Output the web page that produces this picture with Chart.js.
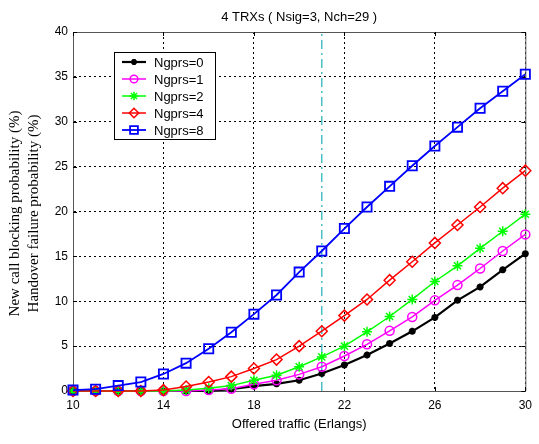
<!DOCTYPE html>
<html>
<head>
<meta charset="utf-8">
<script src="https://cdn.jsdelivr.net/npm/chart.js@4.4.1/dist/chart.umd.min.js"></script>
<style>
  html, body { margin: 0; padding: 0; background: #fff; }
  #wrap { width: 539px; height: 444px; }
</style>
</head>
<body>
<div id="wrap"><canvas id="myChart"></canvas></div>
<script>
// offered traffic (Erlangs)
const traffic = [10, 11, 12, 13, 14, 15, 16, 17, 18, 19, 20, 21, 22, 23, 24, 25, 26, 27, 28, 29, 30];

// blocking / handover failure probability (%)
const ngprs0 = [0, 0, 0, 0, 0, 0, 0, 0.2, 0.55, 0.8, 1.2, 1.95, 2.9, 4.0, 5.3, 6.65, 8.2, 10.1, 11.6, 13.5, 15.3];
const ngprs1 = [0, 0, 0, 0, 0, 0, 0.1, 0.25, 0.75, 1.2, 1.85, 2.7, 3.9, 5.2, 6.7, 8.25, 10.1, 11.8, 13.65, 15.6, 17.45];
const ngprs2 = [0, 0, 0, 0, 0, 0.1, 0.3, 0.6, 1.2, 1.75, 2.7, 3.8, 5.0, 6.6, 8.3, 10.2, 12.2, 13.95, 15.9, 17.8, 19.7];
const ngprs4 = [0, 0, 0, 0, 0.1, 0.5, 1.0, 1.6, 2.5, 3.5, 5.0, 6.66, 8.4, 10.2, 12.35, 14.4, 16.5, 18.5, 20.5, 22.6, 24.55];
const ngprs8 = [0.1, 0.2, 0.6, 1.0, 1.9, 3.1, 4.7, 6.55, 8.56, 10.7, 13.25, 15.6, 18.1, 20.5, 22.8, 25.1, 27.3, 29.4, 31.5, 33.4, 35.3];

const seriesLabels = ['Ngprs=0', 'Ngprs=1', 'Ngprs=2', 'Ngprs=4', 'Ngprs=8'];
const xTicks = [10, 14, 18, 22, 26, 30];
const yTicks = [0, 5, 10, 15, 20, 25, 30, 35, 40];
const markerTraffic = 21;

const series = [
    { label: seriesLabels[0], values: ngprs0, color: '#000000', style: 'star', radius: 3.5, width: 2.2 },
    { label: seriesLabels[1], values: ngprs1, color: '#FF00FF', style: 'circle', radius: 4.5, width: 1.5 },
    { label: seriesLabels[2], values: ngprs2, color: '#00FF00', style: 'star', radius: 5, width: 1.5 },
    { label: seriesLabels[3], values: ngprs4, color: '#FF0000', style: 'rectRot', radius: 5.5, width: 1.5 },
    { label: seriesLabels[4], values: ngprs8, color: '#0000FF', style: 'rect', radius: 6.5, width: 1.8 },
];

const FONT_SANS = "'Liberation Sans', Arial, sans-serif";
const FONT_SERIF = "'Liberation Serif', 'Times New Roman', serif";

const datasets = series.map((s, i) => ({
    label: s.label,
    data: traffic.map((t, k) => ({ x: t, y: s.values[k] })),
    borderColor: s.color,
    backgroundColor: 'rgba(0,0,0,0)',
    borderWidth: s.width,
    pointStyle: s.style,
    pointRadius: s.radius,
    pointBorderColor: s.color,
    pointBackgroundColor: 'rgba(0,0,0,0)',
    pointBorderWidth: s.width,
    tension: 0,
    clip: false,
    order: series.length - i,
}));

datasets.push({
    label: 'marker',
    data: [{ x: markerTraffic, y: yTicks[0] }, { x: markerTraffic, y: yTicks[yTicks.length - 1] }],
    borderColor: '#4CBFC6',
    borderWidth: 1.5,
    borderDash: [9, 4, 2, 4],
    pointRadius: 0,
    order: 20,
});

const decorations = {
    id: 'decorations',
    beforeDatasetsDraw(chart) {
        const { ctx, chartArea: a, scales } = chart;
        ctx.save();
        ctx.strokeStyle = '#555';
        ctx.lineWidth = 1;
        ctx.beginPath();
        ctx.moveTo(a.left, a.top + 0.5);
        ctx.lineTo(a.right + 0.5, a.top + 0.5);
        ctx.lineTo(a.right + 0.5, a.bottom);
        ctx.stroke();
        // inward tick marks
        ctx.strokeStyle = '#000';
        ctx.beginPath();
        xTicks.forEach(v => {
            const x = Math.round(scales.x.getPixelForValue(v)) + 0.5;
            ctx.moveTo(x, a.bottom); ctx.lineTo(x, a.bottom - 4);
            ctx.moveTo(x, a.top); ctx.lineTo(x, a.top + 4);
        });
        yTicks.forEach(v => {
            const y = Math.round(scales.y.getPixelForValue(v)) + 0.5;
            ctx.moveTo(a.left, y); ctx.lineTo(a.left + 4, y);
            ctx.moveTo(a.right, y); ctx.lineTo(a.right - 4, y);
        });
        ctx.stroke();
        ctx.restore();
    },
    afterDraw(chart) {
        const { ctx, chartArea: a } = chart;
        ctx.save();
        ctx.fillStyle = '#000';
        ctx.textAlign = 'center';
        ctx.textBaseline = 'middle';
        ctx.font = '13px ' + FONT_SANS;
        ctx.fillText('4 TRXs ( Nsig=3, Nch=29 )', (a.left + a.right) / 2, 17);
        ctx.fillText('Offered traffic (Erlangs)', (a.left + a.right) / 2, 424);

        ctx.save();
        ctx.translate(15, (a.top + a.bottom) / 2 + 2);
        ctx.rotate(-Math.PI / 2);
        ctx.font = '15px ' + FONT_SERIF;
        ctx.fillText('New call blocking probability (%)', 0, 0);
        ctx.fillText('Handover failure probability (%)', 0, 19);
        ctx.restore();

        // legend box
        const box = { x: 114, y: 52, w: 101, h: 87 };
        ctx.fillStyle = '#fff';
        ctx.fillRect(box.x, box.y, box.w, box.h);
        ctx.strokeStyle = '#000';
        ctx.lineWidth = 1;
        ctx.strokeRect(box.x + 0.5, box.y + 0.5, box.w, box.h);
        ctx.textAlign = 'left';
        ctx.font = '13px ' + FONT_SANS;
        series.forEach((s, i) => {
            const y = 62 + i * 17;
            ctx.strokeStyle = s.color;
            ctx.lineWidth = s.width;
            ctx.beginPath();
            ctx.moveTo(122, y);
            ctx.lineTo(146, y);
            ctx.stroke();
            ctx.fillStyle = 'rgba(0,0,0,0)';
            Chart.helpers.drawPoint(ctx, {
                pointStyle: s.style,
                radius: s.radius * 0.85,
                borderWidth: s.width,
                rotation: 0,
            }, 134, y);
            ctx.fillStyle = '#000';
            ctx.fillText(s.label, 154, y + 1);
        });
        ctx.restore();
    },
};

new Chart(document.getElementById('myChart'), {
    type: 'line',
    data: { datasets },
    options: {
        responsive: true,
        maintainAspectRatio: false,
        animation: false,
        devicePixelRatio: 1,
        layout: { padding: { top: 32, right: 8, left: 0, bottom: 0 } },
        plugins: {
            legend: { display: false },
            tooltip: { enabled: false },
            title: { display: false },
        },
        scales: {
            x: {
                type: 'linear',
                min: 10,
                max: 30,
                afterBuildTicks: (scale) => { scale.ticks = xTicks.map(v => ({ value: v })); },
                afterFit: (scale) => { scale.height = 53; },
                ticks: {
                    color: '#000',
                    font: { family: FONT_SANS, size: 12 },
                    padding: 7,
                    maxRotation: 0,
                    autoSkip: false,
                },
                grid: { color: '#000', lineWidth: 1, drawTicks: false },
                border: { display: true, color: '#555', width: 1, dash: [2, 3] },
            },
            y: {
                min: 0,
                max: 40,
                afterBuildTicks: (scale) => { scale.ticks = yTicks.map(v => ({ value: v })); },
                afterFit: (scale) => { scale.width = 73; },
                ticks: {
                    color: '#000',
                    font: { family: FONT_SANS, size: 12 },
                    padding: 5,
                },
                grid: { color: '#000', lineWidth: 1, drawTicks: false },
                border: { display: true, color: '#555', width: 1, dash: [2, 3] },
            },
        },
    },
    plugins: [decorations],
});
</script>
</body>
</html>
